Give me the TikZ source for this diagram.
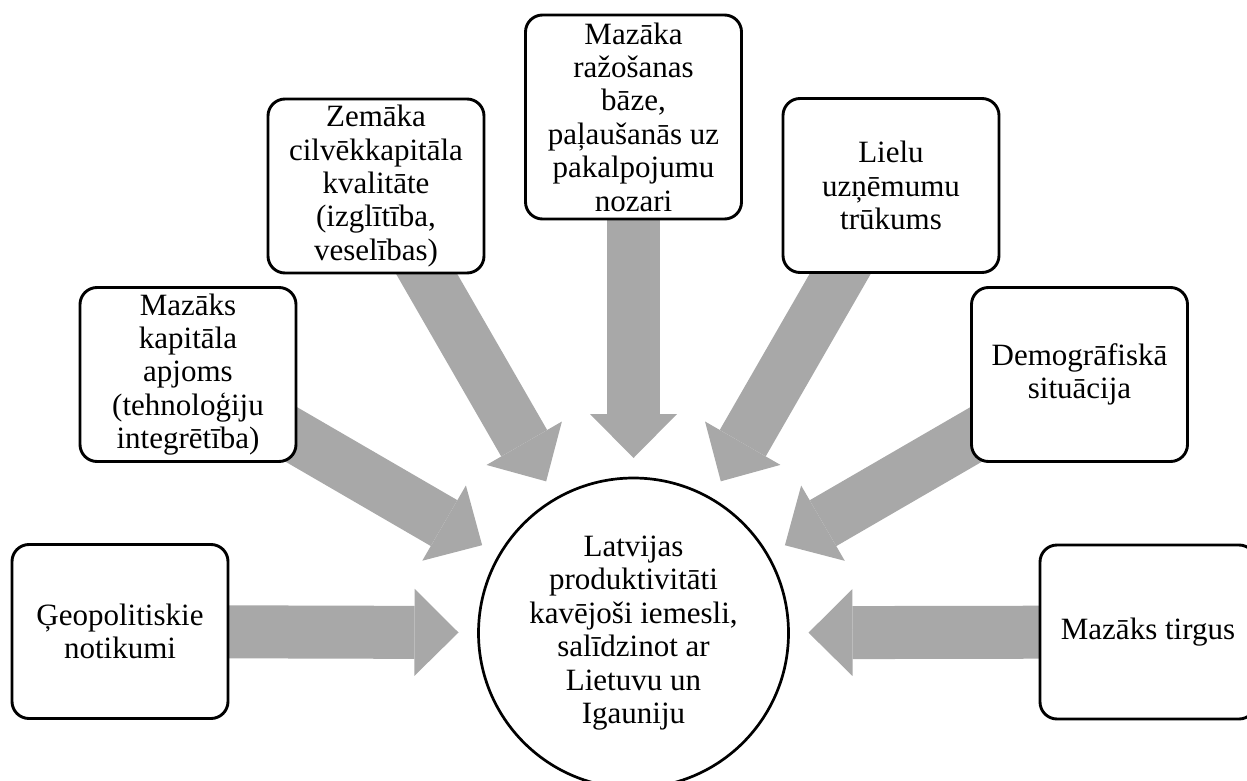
\documentclass[tikz,border=0pt]{standalone}
\usepackage{fontspec}
\setmainfont{Liberation Serif}
\usetikzlibrary{arrows.meta, backgrounds}

\definecolor{arrowgray}{RGB}{168,168,168}
\newcommand{\boxfont}{\fontsize{31}{33.4}\selectfont}

\tikzset{
	cause/.style = {draw, line width = 2.9pt, rounded corners = 17pt, fill = white, align = center, minimum width = 216pt, minimum height = 174pt, inner sep = 0pt, font = \boxfont},
	effect/.style = {draw, circle, line width = 2.7pt, fill = white, align = center, minimum size = 310pt, inner sep = 0pt, outer sep = 0pt, font = \boxfont},
	blockarrow/.style = {arrowgray, line width = 53pt, -{Triangle[width = 87pt, length = 44pt, line width = 0pt]}, shorten > = 20pt}
}

\begin{document}
\begin{tikzpicture}[x = 1pt, y = -1pt]
	 \useasboundingbox (0, 0) rectangle (1247, 781);
	 
	 \node[effect] (latv) at (633.5, 633) {Latvijas\\produktivitāti\\kavējoši iemesli,\\salīdzinot ar\\Lietuvu un\\Igauniju};
	 
	 \node[cause] (geo) at (120, 631.5) {Ģeopolitiskie\\notikumi};
	 \node[cause] (kap) at (188, 374.5) {Mazāks\\kapitāla\\apjoms\\(tehnoloģiju\\integrētība)};
	 \node[cause] (zem) at (376, 186) {Zemāka\\cilvēkkapitāla\\kvalitāte\\(izglītība,\\veselības)};
	 \node[cause, minimum height = 204pt] (raz) at (633.5, 117) {Mazāka\\ražošanas\\bāze,\\paļaušanās uz\\pakalpojumu\\nozari};
	 \node[cause] (lie) at (891, 185.5) {Lielu\\uzņēmumu\\trūkums};
	 \node[cause] (dem) at (1079.5, 374.5) {Demogrāfiskā\\situācija};
	 \node[cause] (tir) at (1148, 632) {Mazāks tirgus};
	 
	 \begin{pgfonlayer}{background}
	 \foreach \c in {geo, kap, zem, raz, lie, dem, tir}
	 \draw[blockarrow] (\c.center) -- (latv);
	 \end{pgfonlayer}
\end{tikzpicture}
\end{document}
